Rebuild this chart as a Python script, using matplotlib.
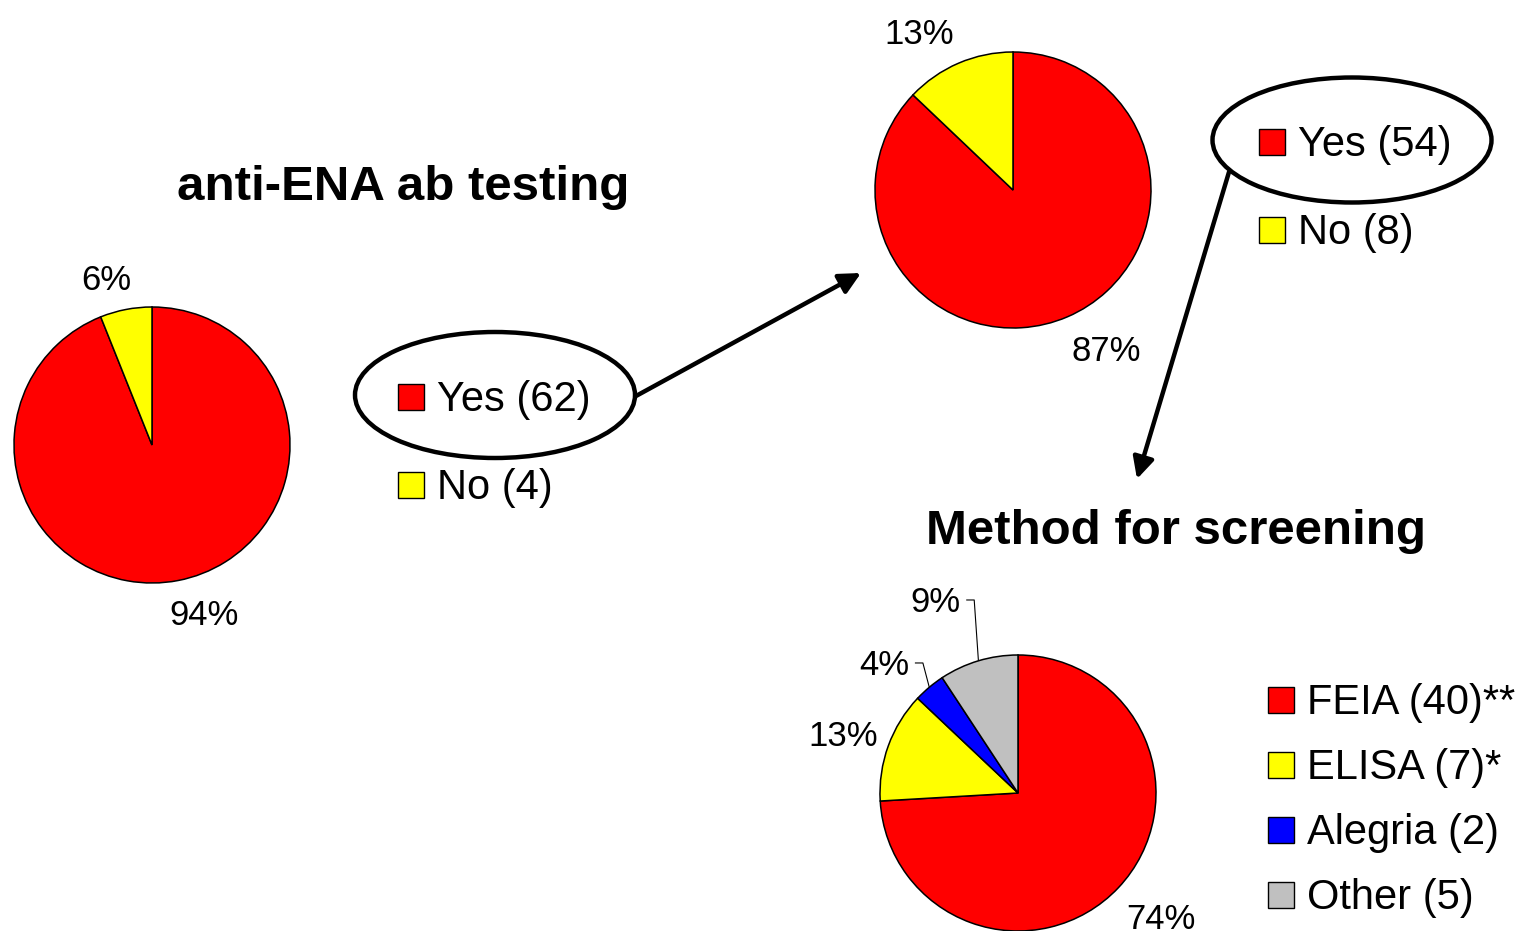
import numpy as np
import matplotlib
matplotlib.use("Agg")
import matplotlib.pyplot as plt
from matplotlib.patches import Ellipse, Rectangle

WIDTH, HEIGHT = 1520, 931

# anti-ENA antibody testing done at all
ena_labels = ["Yes", "No"]
ena_counts = [62, 4]
ena_colors = ["#ff0000", "#ffff00"]

# of those testing: screening performed
screen_labels = ["Yes", "No"]
screen_counts = [54, 8]
screen_colors = ["#ff0000", "#ffff00"]

# method used for screening
method_labels = ["FEIA", "ELISA", "Alegria", "Other"]
method_counts = [40, 7, 2, 5]
method_marks = ["**", "*", "", ""]
method_colors = ["#ff0000", "#ffff00", "#0000ff", "#c0c0c0"]

plt.rcParams["font.family"] = ["Liberation Sans", "DejaVu Sans"]

RADIUS = 138
PCT_SIZE = 25
LEGEND_SIZE = 30
TITLE_SIZE = 35.5
DIGIT_HEIGHT = 0.716 * PCT_SIZE * 100 / 72  # cap/digit height in pixels


def px(x, y):
    # pixel position measured from the top-left corner -> data coordinates
    return x, HEIGHT - y


def draw_pie(ax, counts, colors, center):
    wedges, _ = ax.pie(
        counts,
        colors=colors,
        startangle=90,
        counterclock=False,
        radius=RADIUS,
        center=px(*center),
        wedgeprops={"edgecolor": "black", "linewidth": 1.1},
    )
    return wedges


def label_wedges(ax, renderer, wedges, counts, center, distances, leaders=()):
    total = sum(counts)
    cx, cy = px(*center)
    for i, (wedge, count) in enumerate(zip(wedges, counts)):
        mid = np.deg2rad((wedge.theta1 + wedge.theta2) / 2)
        cos, sin = np.cos(mid), np.sin(mid)
        dist = distances[i] * RADIUS
        x, y = cx + dist * cos, cy + dist * sin
        text = f"{round(100 * count / total)}%"
        if i in leaders:
            ax.text(x, y - DIGIT_HEIGHT / 2, text, ha="right", va="baseline",
                    fontsize=PCT_SIZE)
            edge = (cx + RADIUS * cos, cy + RADIUS * sin)
            ax.plot([x + 6, x + 14, edge[0]], [y, y, edge[1]],
                    color="black", linewidth=0.8, solid_capstyle="butt")
            continue
        # outside-end label: slide the box around the anchor point so it
        # sits clear of the rim whatever the slice direction
        label = ax.text(x, y, text, ha="left", va="baseline", fontsize=PCT_SIZE)
        width = label.get_window_extent(renderer).width
        fx = np.clip(0.5 - 1.8 * cos, 0, 1)
        fy = np.clip((abs(sin) - 0.15) / 0.5, 0, 1)
        centre_y = y + np.sign(sin) * fy * (9 + DIGIT_HEIGHT / 2)
        label.set_position((x - fx * width, centre_y - DIGIT_HEIGHT / 2))


def draw_legend(ax, left, first_center, pitch, colors, texts):
    size = 26
    for k, (color, text) in enumerate(zip(colors, texts)):
        cy = first_center + k * pitch
        x0, y0 = px(left, cy + size / 2)
        ax.add_patch(Rectangle((x0, y0), size, size, facecolor=color,
                               edgecolor="black", linewidth=1.0, zorder=3))
        ax.text(left + size + 13, y0 - 1, text, ha="left", va="baseline",
                fontsize=LEGEND_SIZE)


def draw_arrow(ax, tail, head):
    ax.annotate("", xy=px(*head), xytext=px(*tail),
                arrowprops={"arrowstyle": "-|>", "color": "black", "lw": 3.2,
                            "mutation_scale": 32, "shrinkA": 0, "shrinkB": 0})


fig = plt.figure(figsize=(WIDTH / 100, HEIGHT / 100), dpi=100)
ax = fig.add_axes([0, 0, 1, 1])
renderer = fig.canvas.get_renderer()

# first pie: anti-ENA ab testing
ena_center = (152, 445)
wedges = draw_pie(ax, ena_counts, ena_colors, ena_center)
label_wedges(ax, renderer, wedges, ena_counts, ena_center, [1.08, 1.08])
draw_legend(ax, 398, 397, 88, ena_colors,
            [f"{n} ({c})" for n, c in zip(ena_labels, ena_counts)])
ax.text(*px(403, 187), "anti-ENA ab testing", ha="center", va="center",
        fontsize=TITLE_SIZE, fontweight="bold")

# second pie: screening among those testing
screen_center = (1013, 190)
wedges = draw_pie(ax, screen_counts, screen_colors, screen_center)
label_wedges(ax, renderer, wedges, screen_counts, screen_center, [1.08, 1.08])
draw_legend(ax, 1259, 142, 88, screen_colors,
            [f"{n} ({c})" for n, c in zip(screen_labels, screen_counts)])

# third pie: method for screening
method_center = (1018, 793)
wedges = draw_pie(ax, method_counts, method_colors, method_center)
label_wedges(ax, renderer, wedges, method_counts, method_center,
             [1.08, 1.08, 1.23, 1.46], leaders=(2, 3))
draw_legend(ax, 1268, 700, 65, method_colors,
            [f"{n} ({c}){m}" for n, c, m in
             zip(method_labels, method_counts, method_marks)])
ax.text(*px(1176, 531), "Method for screening", ha="center", va="center",
        fontsize=TITLE_SIZE, fontweight="bold")

# highlight the "Yes" answers and link them to the next question
ax.add_patch(Ellipse(px(495, 395), 280, 126, fill=False,
                     edgecolor="black", linewidth=3.2))
ax.add_patch(Ellipse(px(1352, 140), 279, 125, fill=False,
                     edgecolor="black", linewidth=3.2))
draw_arrow(ax, (636, 396), (861, 273))
draw_arrow(ax, (1229, 172), (1137, 479))

ax.set_xlim(0, WIDTH)
ax.set_ylim(0, HEIGHT)
ax.set_aspect("equal")
ax.axis("off")

fig.savefig("out.png", dpi=100, facecolor="white")
